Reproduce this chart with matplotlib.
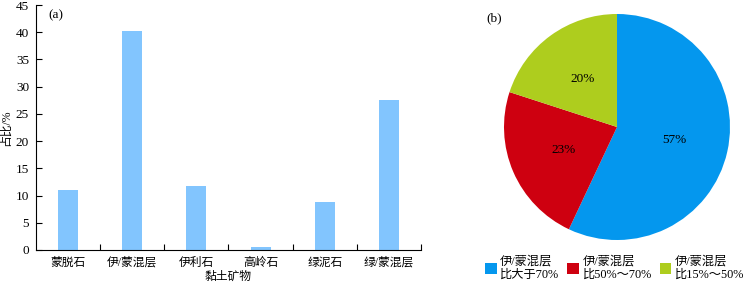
import matplotlib
matplotlib.use("Agg")
import matplotlib.pyplot as plt
from matplotlib.patches import Patch

plt.rcParams['font.family'] = ['Liberation Serif', 'Noto Sans CJK SC']
plt.rcParams['font.size'] = 9

categories = ['蒙脱石', '伊/蒙混层', '伊利石', '高岭石', '绿泥石', '绿/蒙混层']
values = [11.0, 40.3, 11.7, 0.5, 8.8, 27.5]
yticks = [0, 5, 10, 15, 20, 25, 30, 35, 40, 45]

pie_values = [57, 23, 20]
pie_labels = ['伊/蒙混层\n比大于70%', '伊/蒙混层\n比50%～70%', '伊/蒙混层\n比15%～50%']
pie_colors = ['#0497EE', '#CE0010', '#AECD1E']

W, H = 750, 283
fig = plt.figure(figsize=(7.5, 2.83), dpi=100)

# Bar chart
ax = fig.add_axes([36 / W, (H - 250) / H, 385 / W, 245 / H])
x = list(range(len(categories)))
ax.bar(x, values, width=0.31, color='#82C5FE', edgecolor='none')
ax.set_xlim(-0.5, len(categories) - 0.5)
ax.set_ylim(0, 45)
ax.set_yticks(yticks)
ax.set_xticks(x)
ax.set_xticklabels(categories, fontsize=8.5)
ax.set_xticks([i + 0.5 for i in x], minor=True)
ax.tick_params(axis='x', which='major', length=0, pad=5)
ax.tick_params(axis='x', which='minor', direction='in', length=4, width=0.8)
ax.tick_params(axis='y', direction='in', length=4, width=0.8, labelsize=9.5, pad=5)
for s in ['top', 'right']:
    ax.spines[s].set_visible(False)
for s in ['left', 'bottom']:
    ax.spines[s].set_linewidth(0.8)
ax.set_ylabel('占比/%', fontsize=8.5, labelpad=3)
ax.set_xlabel('黏土矿物', fontsize=8.5, labelpad=1)
ax.text(0.032, 0.96, '(a)', transform=ax.transAxes, fontsize=9.5, va='center')

# Pie chart
r = 113
axp = fig.add_axes([(617 - r) / W, (H - 127 - r) / H, 2 * r / W, 2 * r / H])
wedges, texts, autotexts = axp.pie(pie_values, colors=pie_colors, startangle=90,
                                   counterclock=False, autopct='%d%%', pctdistance=0.52,
                                   wedgeprops=dict(linewidth=0), textprops=dict(fontsize=9.5))
axp.set_xlim(-1, 1)
axp.set_ylim(-1, 1)
axp.set_aspect('equal')
fig.text(486 / W, 1 - 18 / H, '(b)', fontsize=9.5, va='center')

handles = [Patch(facecolor=c, edgecolor='none') for c in pie_colors]
fig.legend(handles, pie_labels, ncol=3, loc='center left',
           bbox_to_anchor=(480 / W, 1 - 268 / H), frameon=False, fontsize=8.8,
           handlelength=0.95, handleheight=0.95, handletextpad=0.3, columnspacing=0.65,
           labelspacing=0.2, borderaxespad=0)

fig.savefig('out.png', dpi=100)
